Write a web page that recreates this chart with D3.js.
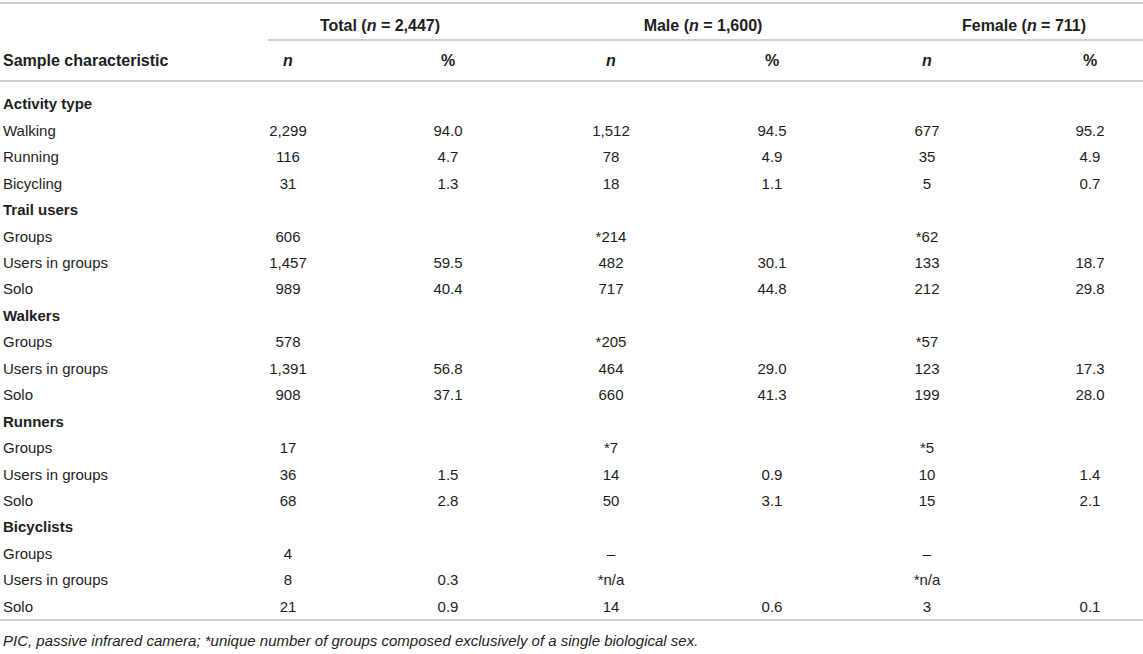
<!DOCTYPE html>
<html>
<head>
<meta charset="utf-8">
<script src="https://cdn.jsdelivr.net/npm/d3@7"></script>
<style>
  body { margin:0; background:#fff; }
  svg text { font-family: "Liberation Sans", Arial, Helvetica, sans-serif; fill:#1e1e1e; }
</style>
</head>
<body>
<svg></svg>
<script>
// table data
var groupNames = ["Total", "Male", "Female"];
var groupSizes = ["2,447", "1,600", "711"];
var subHeaders = ["n", "%"];
var stubHeader = "Sample characteristic";
var sectionRows = ["Activity type", "Trail users", "Walkers", "Runners", "Bicyclists"];
var rowLabels = ["Activity type", "Walking", "Running", "Bicycling",
                 "Trail users", "Groups", "Users in groups", "Solo",
                 "Walkers", "Groups", "Users in groups", "Solo",
                 "Runners", "Groups", "Users in groups", "Solo",
                 "Bicyclists", "Groups", "Users in groups", "Solo"];
var totalN    = ["", "2,299", "116", "31", "", "606", "1,457", "989", "", "578", "1,391", "908", "", "17", "36", "68", "", "4", "8", "21"];
var totalPct  = ["", "94.0", "4.7", "1.3", "", "", "59.5", "40.4", "", "", "56.8", "37.1", "", "", "1.5", "2.8", "", "", "0.3", "0.9"];
var maleN     = ["", "1,512", "78", "18", "", "*214", "482", "717", "", "*205", "464", "660", "", "*7", "14", "50", "", "\u2013", "*n/a", "14"];
var malePct   = ["", "94.5", "4.9", "1.1", "", "", "30.1", "44.8", "", "", "29.0", "41.3", "", "", "0.9", "3.1", "", "", "", "0.6"];
var femaleN   = ["", "677", "35", "5", "", "*62", "133", "212", "", "*57", "123", "199", "", "*5", "10", "15", "", "\u2013", "*n/a", "3"];
var femalePct = ["", "95.2", "4.9", "0.7", "", "", "18.7", "29.8", "", "", "17.3", "28.0", "", "", "1.4", "2.1", "", "", "", "0.1"];
var footnote = "PIC, passive infrared camera; *unique number of groups composed exclusively of a single biological sex.";

var columns = [totalN, totalPct, maleN, malePct, femaleN, femalePct];

var screen = { width: 1143, height: 654 };
var svg = d3.select("svg")
            .attr("width", screen.width)
            .attr("height", screen.height);

var fontSize = 15;
var headSize = 16;
var lineColor = "#c0c0c0";

// scales
var yScale = d3.scaleLinear()
               .domain([0, rowLabels.length - 1])
               .range([104, 104 + (rowLabels.length - 1) * 26.45]);
var xScale = d3.scaleOrdinal()
               .domain(d3.range(columns.length))
               .range([288, 448, 611, 772, 927, 1090]);
var groupX = d3.scaleOrdinal()
               .domain(groupNames)
               .range([380, 703, 1024]);

// rules
var rules = [
  { x1: 0, x2: screen.width, y: 3 },
  { x1: 268, x2: screen.width, y: 40 },
  { x1: 0, x2: screen.width, y: 81 },
  { x1: 0, x2: screen.width, y: 620 }
];
svg.selectAll("line.rule")
   .data(rules)
   .enter()
   .append("line")
   .classed("rule", true)
   .attr("x1", function(d){ return d.x1; })
   .attr("x2", function(d){ return d.x2; })
   .attr("y1", function(d){ return d.y; })
   .attr("y2", function(d){ return d.y; })
   .attr("stroke", lineColor)
   .attr("stroke-width", 1.6);

// group headers
var groupText = svg.selectAll("text.group")
   .data(groupNames)
   .enter()
   .append("text")
   .classed("group", true)
   .attr("x", function(d){ return groupX(d); })
   .attr("y", 25)
   .attr("dy", "0.35em")
   .attr("text-anchor", "middle")
   .attr("font-size", headSize)
   .attr("font-weight", "bold");
groupText.append("tspan").text(function(d){ return d + " ("; });
groupText.append("tspan").attr("font-style", "italic").text("n");
groupText.append("tspan").text(function(d, i){ return " = " + groupSizes[i] + ")"; });

// sub headers
svg.append("text")
   .attr("x", 3)
   .attr("y", 60)
   .attr("dy", "0.35em")
   .attr("font-size", headSize)
   .attr("font-weight", "bold")
   .text(stubHeader);

svg.selectAll("text.sub")
   .data(columns)
   .enter()
   .append("text")
   .classed("sub", true)
   .attr("x", function(d, i){ return xScale(i); })
   .attr("y", 60)
   .attr("dy", "0.35em")
   .attr("text-anchor", "middle")
   .attr("font-size", headSize)
   .attr("font-weight", "bold")
   .attr("font-style", function(d, i){ return i % 2 == 0 ? "italic" : "normal"; })
   .text(function(d, i){ return subHeaders[i % 2]; });

// row labels
svg.selectAll("text.label")
   .data(rowLabels)
   .enter()
   .append("text")
   .classed("label", true)
   .attr("x", 3)
   .attr("y", function(d, i){ return yScale(i); })
   .attr("dy", "0.35em")
   .attr("font-size", fontSize)
   .attr("font-weight", function(d){ return sectionRows.indexOf(d) >= 0 ? "bold" : "normal"; })
   .text(function(d){ return d; });

// cells
var cols = svg.selectAll("g.col")
   .data(columns)
   .enter()
   .append("g")
   .classed("col", true)
   .attr("transform", function(d, i){ return "translate(" + xScale(i) + ",0)"; });

cols.selectAll("text")
    .data(function(d){ return d; })
    .enter()
    .append("text")
    .attr("x", 0)
    .attr("y", function(d, i){ return yScale(i); })
    .attr("dy", "0.35em")
    .attr("text-anchor", "middle")
    .attr("font-size", fontSize)
    .text(function(d){ return d; });

// footnote
svg.append("text")
   .attr("x", 3)
   .attr("y", 641)
   .attr("dy", "0.35em")
   .attr("font-size", 15)
   .attr("font-style", "italic")
   .text(footnote);
</script>
</body>
</html>
